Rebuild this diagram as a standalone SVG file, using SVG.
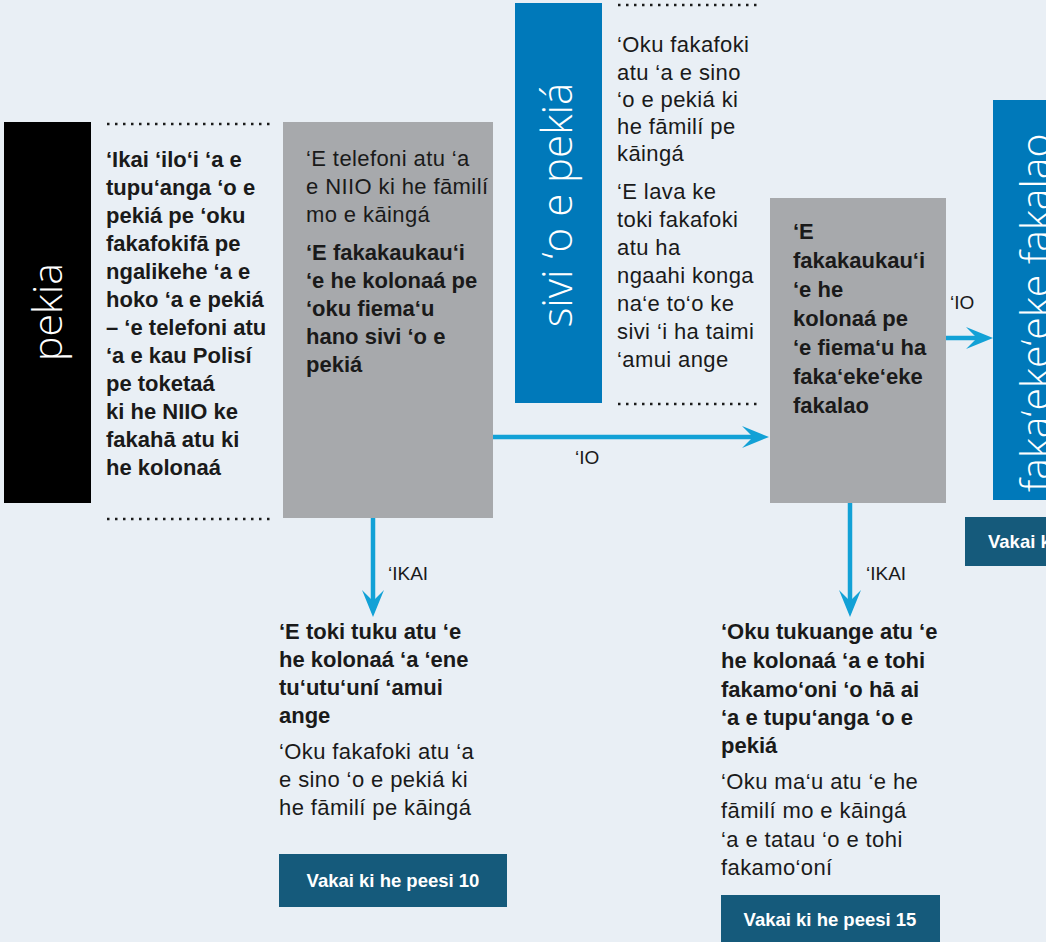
<svg xmlns="http://www.w3.org/2000/svg" width="1046" height="942" viewBox="0 0 1046 942">
<defs>
<style>
.t{font-family:"Liberation Sans",Arial,sans-serif;font-size:22px;fill:#1a1a1a}
.r{letter-spacing:0.4px}
.b{font-weight:bold}
.lbl{font-family:"Liberation Sans",Arial,sans-serif;font-size:19px;fill:#1a1a1a}
.big{font-family:"Open Sans","Lato",sans-serif;font-weight:300;font-size:40px;fill:#ffffff}
.btn{font-family:"Liberation Sans",Arial,sans-serif;font-weight:bold;font-size:18.5px;fill:#ffffff}
.dot{stroke:#1a1a1a;stroke-width:2.5;stroke-dasharray:2.5 5.5;fill:none}
.gray{fill:#a7a9ac}
.blue{fill:#0079ba}
.dk{fill:#155a7b}
.arr{stroke:#12a1d6;stroke-width:4.5;fill:none}
.head{fill:#12a1d6}
</style>
</defs>
<rect width="1046" height="942" fill="#e9eff5"/>

<g id="pekia">
<rect x="4" y="122" width="87" height="381" fill="#000"/>
<text class="big" transform="translate(62,312) rotate(-90)" text-anchor="middle" style="font-size:41px">pekia</text>
</g>

<g id="ikai-ilo">
<line class="dot" x1="107" y1="124" x2="270" y2="124"/>
<text class="t b" x="106">
<tspan x="106" y="167">‘Ikai ‘ilo‘i ‘a e</tspan>
<tspan x="106" y="195">tupu‘anga ‘o e</tspan>
<tspan x="106" y="223">pekiá pe ‘oku</tspan>
<tspan x="106" y="251">fakafokifā pe</tspan>
<tspan x="106" y="279">ngalikehe ‘a e</tspan>
<tspan x="106" y="307">hoko ‘a e pekiá</tspan>
<tspan x="106" y="335">– ‘e telefoni atu</tspan>
<tspan x="106" y="363">‘a e kau Polisí</tspan>
<tspan x="106" y="391">pe toketaá</tspan>
<tspan x="106" y="419">ki he NIIO ke</tspan>
<tspan x="106" y="447">fakahā atu ki</tspan>
<tspan x="106" y="475">he kolonaá</tspan>
</text>
<line class="dot" x1="107" y1="519" x2="270" y2="519"/>
</g>

<g id="telefoni">
<rect class="gray" x="283" y="122" width="210" height="396"/>
<text class="t r">
<tspan x="306" y="166">‘E telefoni atu ‘a</tspan>
<tspan x="306" y="194">e NIIO ki he fāmilí</tspan>
<tspan x="306" y="222">mo e kāingá</tspan>
</text>
<text class="t b">
<tspan x="306" y="260">‘E fakakaukau‘i</tspan>
<tspan x="306" y="288">‘e he kolonaá pe</tspan>
<tspan x="306" y="316">‘oku fiema‘u</tspan>
<tspan x="306" y="344">hano sivi ‘o e</tspan>
<tspan x="306" y="372">pekiá</tspan>
</text>
</g>

<g id="sivi">
<rect class="blue" x="515" y="3" width="87" height="400"/>
<text class="big" transform="translate(572,205) rotate(-90)" text-anchor="middle" style="font-size:42px">sivi ‘o e pekiá</text>
<line class="dot" x1="618" y1="5" x2="757" y2="5"/>
<text class="t r">
<tspan x="617" y="52">‘Oku fakafoki</tspan>
<tspan x="617" y="80">atu ‘a e sino</tspan>
<tspan x="617" y="107">‘o e pekiá ki</tspan>
<tspan x="617" y="134">he fāmilí pe</tspan>
<tspan x="617" y="161">kāingá</tspan>
<tspan x="617" y="199">‘E lava ke</tspan>
<tspan x="617" y="227">toki fakafoki</tspan>
<tspan x="617" y="255">atu ha</tspan>
<tspan x="617" y="283">ngaahi konga</tspan>
<tspan x="617" y="311">na‘e to‘o ke</tspan>
<tspan x="617" y="339">sivi ‘i ha taimi</tspan>
<tspan x="617" y="367">‘amui ange</tspan>
</text>
<line class="dot" x1="618" y1="404" x2="757" y2="404"/>
</g>

<g id="fakakaukau2">
<rect class="gray" x="770" y="198" width="176" height="305"/>
<text class="t b">
<tspan x="793" y="239">‘E</tspan>
<tspan x="793" y="268">fakakaukau‘i</tspan>
<tspan x="793" y="297">‘e he</tspan>
<tspan x="793" y="326">kolonaá pe</tspan>
<tspan x="793" y="355">‘e fiema‘u ha</tspan>
<tspan x="793" y="384">faka‘eke‘eke</tspan>
<tspan x="793" y="413">fakalao</tspan>
</text>
</g>

<g id="fakalao">
<rect class="blue" x="993" y="100" width="60" height="400"/>
<text class="big" transform="translate(1050,492) rotate(-90)" style="font-size:41px">faka‘eke‘eke fakalao</text>
<rect class="dk" x="965" y="517" width="90" height="49"/>
<text class="btn" x="988" y="548">Vakai ki</text>
</g>

<g id="tuku">
<text class="t b">
<tspan x="279" y="639">‘E toki tuku atu ‘e</tspan>
<tspan x="279" y="667">he kolonaá ‘a ‘ene</tspan>
<tspan x="279" y="695">tu‘utu‘uní ‘amui</tspan>
<tspan x="279" y="723">ange</tspan>
</text>
<text class="t r">
<tspan x="279" y="759">‘Oku fakafoki atu ‘a</tspan>
<tspan x="279" y="787">e sino ‘o e pekiá ki</tspan>
<tspan x="279" y="815">he fāmilí pe kāingá</tspan>
</text>
<rect class="dk" x="279" y="854" width="228" height="53"/>
<text class="btn" x="393" y="887" text-anchor="middle">Vakai ki he peesi 10</text>
</g>

<g id="tukuange">
<text class="t b">
<tspan x="721" y="639">‘Oku tukuange atu ‘e</tspan>
<tspan x="721" y="668">he kolonaá ‘a e tohi</tspan>
<tspan x="721" y="697">fakamo‘oni ‘o hā ai</tspan>
<tspan x="721" y="725">‘a e tupu‘anga ‘o e</tspan>
<tspan x="721" y="753">pekiá</tspan>
</text>
<text class="t r">
<tspan x="721" y="789">‘Oku ma‘u atu ‘e he</tspan>
<tspan x="721" y="818">fāmilí mo e kāingá</tspan>
<tspan x="721" y="847">‘a e tatau ‘o e tohi</tspan>
<tspan x="721" y="875">fakamo‘oní</tspan>
</text>
<rect class="dk" x="721" y="895" width="219" height="47"/>
<text class="btn" x="830" y="926" text-anchor="middle">Vakai ki he peesi 15</text>
</g>

<g id="connectors">
<line class="arr" x1="493" y1="437" x2="758" y2="437"/>
<path class="head" d="M769,437 L742,426 L753,437 L742,448 Z"/>
<text class="lbl" x="575" y="464">‘IO</text>
<line class="arr" x1="946" y1="338" x2="982" y2="338"/>
<path class="head" d="M993,338 L966,327 L977,338 L966,349 Z"/>
<text class="lbl" x="950" y="309">‘IO</text>
<line class="arr" x1="373" y1="518" x2="373" y2="606"/>
<path class="head" d="M373,617 L362,590 L373,601 L384,590 Z"/>
<text class="lbl" x="388" y="580">‘IKAI</text>
<line class="arr" x1="850" y1="503" x2="850" y2="606"/>
<path class="head" d="M850,617 L839,590 L850,601 L861,590 Z"/>
<text class="lbl" x="866" y="580">‘IKAI</text>
</g>
</svg>
